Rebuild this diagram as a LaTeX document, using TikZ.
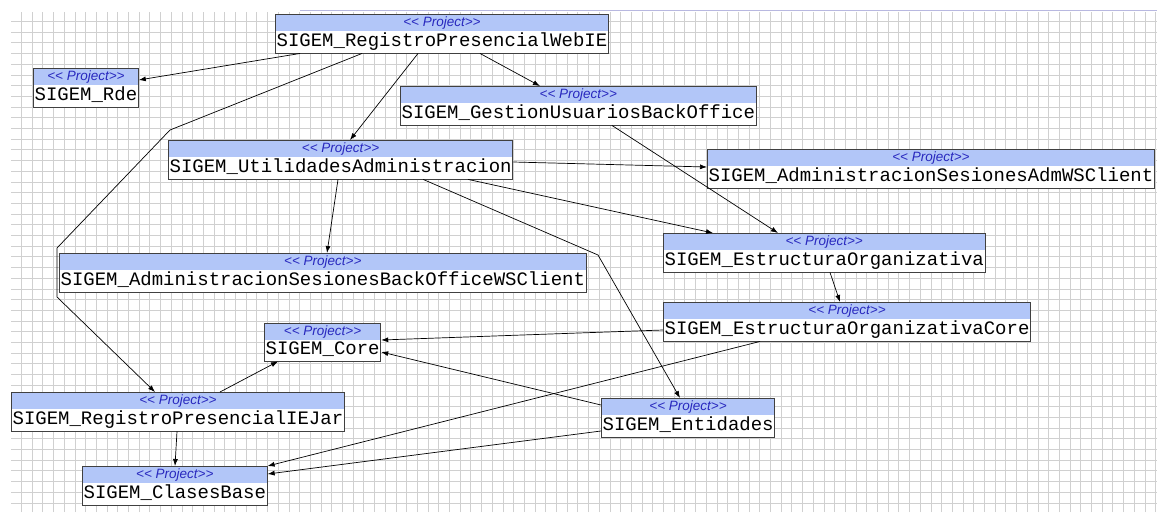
\documentclass[tikz,border=0pt]{standalone}
\usepackage{fontspec}
\newfontfamily\namefont{Liberation Mono}
\newfontfamily\headfont{Liberation Sans}
\usetikzlibrary{shapes.multipart,arrows.meta}
\definecolor{headblue}{RGB}{178,198,248}
\definecolor{headtext}{RGB}{40,40,190}
\definecolor{gridgray}{RGB}{208,208,208}
\tikzset{
  project/.style={rectangle split, rectangle split parts=2,
    rectangle split draw splits=false,
    rectangle split part fill={headblue,white},
    draw=black!75, line width=0.8pt, anchor=north west,
    inner xsep=1.2pt, inner ysep=1.5pt, align=center},
  dep/.style={-{Latex[length=7pt,width=5pt]}, line width=0.7pt}
}
\newcommand{\proj}[1]{{\headfont\itshape\fontsize{13.5}{14}\selectfont
  \color{headtext}\rule[-3pt]{0pt}{12.5pt}<\kern0pt< Project>\kern0pt>}%
  \nodepart{two}{\namefont\fontsize{19}{20}\selectfont\rule[-4.5pt]{0pt}{17pt}#1}}
\begin{document}
\begin{tikzpicture}[x=1pt,y=-1pt]
  \useasboundingbox (0,0) rectangle (1157,515);
  \fill[white] (0,0) rectangle (1157,515);
  %cuadricula
  \draw[gridgray, line width=0.8pt, step=10.7pt] (11,12) grid (1157,512);
  \draw[gray!60!blue!40, line width=0.8pt] (300,10) -- (1157,10);
  %proyectos
  \node[project] (webie) at (275,14) {\proj{SIGEM\_RegistroPresencialWebIE}};
  \node[project] (rde) at (33,68) {\proj{SIGEM\_Rde}};
  \node[project] (gestion) at (400,86) {\proj{SIGEM\_GestionUsuariosBackOffice}};
  \node[project] (utilidades) at (168,140) {\proj{SIGEM\_UtilidadesAdministracion}};
  \node[project] (admws) at (707,149) {\proj{SIGEM\_AdministracionSesionesAdmWSClient}};
  \node[project] (estructura) at (663,233) {\proj{SIGEM\_EstructuraOrganizativa}};
  \node[project] (backws) at (59,253) {\proj{SIGEM\_AdministracionSesionesBackOfficeWSClient}};
  \node[project] (estcore) at (663,302) {\proj{SIGEM\_EstructuraOrganizativaCore}};
  \node[project] (core) at (264,323) {\proj{SIGEM\_Core}};
  \node[project] (iejar) at (11,392) {\proj{SIGEM\_RegistroPresencialIEJar}};
  \node[project] (entidades) at (601,398) {\proj{SIGEM\_Entidades}};
  \node[project] (clases) at (82,466) {\proj{SIGEM\_ClasesBase}};
  %dependencias
  \draw[dep] ([xshift=25pt]webie.south west) -- ([yshift=-12pt]rde.north east);
  \draw[dep] ([xshift=87pt]webie.south west) -- (170,130) -- (57,248) -- (57,297)
    -- ([xshift=144pt]iejar.north west);
  \draw[dep] ([xshift=143pt]webie.south west) -- ([xshift=182pt]utilidades.north west);
  \draw[dep] ([xshift=205pt]webie.south west) -- ([xshift=140pt]gestion.north west);
  \draw[dep] ([xshift=212pt]gestion.south west) -- ([xshift=115pt]estructura.north west);
  \draw[dep] ([yshift=-22pt]utilidades.north east) -- ([yshift=-18pt]admws.north west);
  \draw[dep] ([xshift=-45pt]utilidades.south east) -- ([xshift=50pt]estructura.north west);
  \draw[dep] ([xshift=170pt]utilidades.south west) -- ([xshift=268pt]backws.north west);
  \draw[dep] ([xshift=-90pt]utilidades.south east) -- (598,255)
    -- ([xshift=79pt]entidades.north west);
  \draw[dep] ([xshift=167pt]estructura.south west) -- ([xshift=177pt]estcore.north west);
  \draw[dep] ([yshift=-28pt]estcore.north west) -- ([yshift=-17pt]core.north east);
  \draw[dep] ([xshift=97pt]estcore.south west) -- (clases.north east);
  \draw[dep] ([yshift=-7pt]entidades.north west) -- ([yshift=-29pt]core.north east);
  \draw[dep] ([yshift=-33pt]entidades.north west) -- ([yshift=-8pt]clases.north east);
  \draw[dep] ([xshift=209pt]iejar.north west) -- ([xshift=14pt]core.south west);
  \draw[dep] ([xshift=166pt]iejar.south west) -- ([xshift=93pt]clases.north west);
\end{tikzpicture}
\end{document}
